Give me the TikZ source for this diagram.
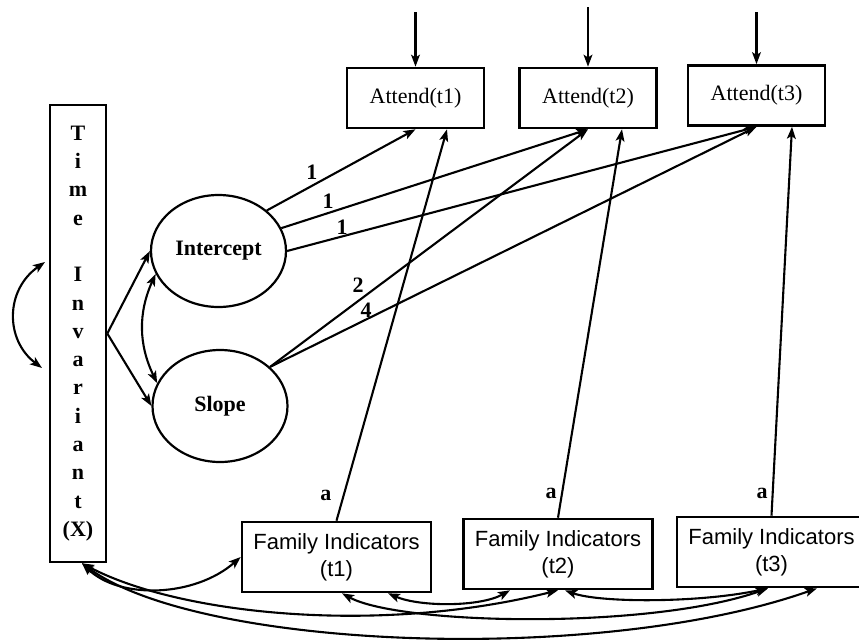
\documentclass[tikz,border=0pt]{standalone}
\usepackage{fontspec}
\setmainfont{Liberation Serif}
\newfontfamily\labelsans{Liberation Sans}
\usetikzlibrary{arrows.meta,shapes.geometric,calc}

\begin{document}
\begin{tikzpicture}[x=0.5pt,y=-0.5pt,
  >={Stealth[length=6pt,width=4.4pt,inset=1.4pt]},
  box/.style={draw,line width=1.3pt,inner sep=0pt,font=\fontsize{11}{13.5}\selectfont},
  attendbox/.style={box,minimum width=68.5pt,minimum height=30pt},
  fibox/.style={box,minimum width=94.5pt,minimum height=35pt,align=center,
    font=\labelsans\fontsize{11}{13.5}\selectfont},
  latent/.style={ellipse,draw,line width=1.1pt,inner sep=0pt,minimum width=67.5pt,
    minimum height=56pt,font=\bfseries\fontsize{11}{13}\selectfont},
  regpath/.style={->,line width=1.05pt},
  covpath/.style={<->,line width=1.05pt},
  coef/.style={font=\bfseries\fontsize{11}{13}\selectfont,inner sep=0pt},
]
\path[use as bounding box] (0,0) rectangle (859,644);
\clip (0,0) rectangle (859,644);

% observed outcomes
\node[attendbox] (a1) at (415.5,98)   {Attend(t1)};
\node[attendbox] (a2) at (588,98)     {Attend(t2)};
\node[attendbox] (a3) at (756.5,95.5) {Attend(t3)};

% time-varying covariates
\node[fibox] (f1) at (336.5,557) {Family Indicators\\(t1)};
\node[fibox] (f2) at (558,554)   {Family Indicators\\(t2)};
\node[fibox] (f3) at (771.5,552) {Family Indicators\\(t3)};

% growth factors
\node[latent] (int) at (218.5,251) {Intercept};
\node[latent] (slp) at (220,406)   {Slope};

% time-invariant covariate, written vertically
\node[box,minimum width=28pt,minimum height=228.5pt,align=center,
  font=\bfseries\fontsize{11}{14.15}\selectfont] (ti) at (78,333.5)
  {T\\i\\m\\e\\[14.15pt]I\\n\\v\\a\\r\\i\\a\\n\\t\\(X)};

% residual arrows
\coordinate (e1) at (415.5,12);
\coordinate (e2) at (588,7);
\coordinate (e3) at (756.5,12);
\draw[regpath] (e1) -- (a1);
\draw[regpath] (e2) -- (a2);
\draw[regpath] (e3) -- (a3);

% factor loadings
\draw[regpath] (int.40)   -- (a1.south);
\draw[regpath] (int.20)   -- (a2.south);
\draw[regpath] (int.east) -- (a3.south);
\draw[regpath] (slp.38)   -- (a2.south);
\draw[regpath] (slp.38)   -- (a3.south);
\node[coef] (l1) at (312,172) {1};
\node[coef] (l2) at (328,201) {1};
\node[coef] (l3) at (342,227) {1};
\node[coef] (l4) at (358,285) {2};
\node[coef] (l5) at (366,310) {4};

% covariate effects on the outcomes
\draw[regpath] (f1.north) -- ($(a1.south)+(31.5,0)$);
\draw[regpath] (f2.north) -- ($(a2.south)+(34,0)$);
\draw[regpath] (f3.north) -- ($(a3.south)+(35.5,0)$);
\node[coef] (p1) at (326,495) {a};
\node[coef] (p2) at (551,493) {a};
\node[coef] (p3) at (762,493) {a};

% time-invariant covariate on the growth factors
\draw[regpath] (ti.east) -- (int.west);
\draw[regpath] (ti.east) -- (slp.west);

% covariances
\draw[covpath] (int.200) to[bend right=25] (slp.160);
\coordinate (tiu) at (45,262);
\coordinate (til) at (42,368);
\draw[covpath] (tiu) .. controls (5,290) and (5,340) .. (til);

\coordinate (tib) at ($(ti.south)+(4,0)$);
\draw[covpath] (tib) .. controls (120,600) and (195,597) .. (f1.west);
\draw[covpath] (tib) .. controls (180,615) and (380,635) .. (f2.south);
\draw[covpath] (tib) .. controls (200,650) and (600,665) .. ($(f3.south)+(45.5,0)$);
\draw[covpath] ($(f1.south)+(51.5,0)$) .. controls (420,607) and (480,607) .. ($(f2.south)+(-48,0)$);
\draw[covpath] ($(f1.south)+(5.5,0)$) .. controls (400,625) and (650,630) .. ($(f3.south)+(-3.5,0)$);
\draw[covpath] ($(f2.south)+(7,0)$) .. controls (600,603) and (700,603) .. ($(f3.south)+(-3.5,0)$);
\end{tikzpicture}
\end{document}
